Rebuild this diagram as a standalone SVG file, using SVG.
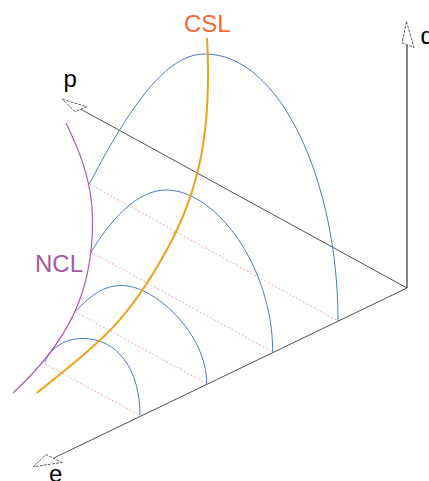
<svg xmlns="http://www.w3.org/2000/svg" width="429" height="481" viewBox="0 0 429 481">
<style>
.ax{stroke:#222;stroke-width:0.8;fill:none}
.axc{stroke:#666;stroke-width:1.6;fill:none}
.head{fill:#fff;stroke:#333;stroke-width:0.8;stroke-dasharray:3 1.2}
.arc{stroke:#4a78c8;stroke-width:1;fill:none}
.base{stroke:#f08a8a;stroke-width:0.8;stroke-dasharray:2 2;fill:none}
.ncl{stroke:#b05ab4;stroke-width:1.2;fill:none}
.csl{stroke:#e8a320;stroke-width:2;fill:none}
.lbl{font-family:"Liberation Sans",Arial,sans-serif;font-size:24px}
</style>
<rect width="429" height="481" fill="#fff"/>
<g id="bases">
<path class="base" d="M89.3,184 L338,321"/>
<path class="base" d="M91,252 L272.7,352"/>
<path class="base" d="M75,311.7 L206.7,383.5"/>
<path class="base" d="M45,364 L140,415.5"/>
</g>
<g id="axes">
<path class="axc" d="M407,45 L407,288"/>
<path class="ax" d="M407,288 L80.8,109.2"/>
<path class="ax" d="M407,288 L53.8,458"/>
<polygon class="head" points="406.5,21.7 402,43 414,47.5"/>
<polygon class="head" points="62.3,99.3 86.7,106.7 75,111.7"/>
<polygon class="head" points="33.3,466.7 46,454.5 61.7,462.5"/>
</g>
<g id="arcs">
<path class="arc" d="M89.3,184 C135.7,94.9 170,54 205,54 C280,54 338,181 338,321"/>
<path class="arc" d="M91,252 C109.8,221.6 136,190 166,190 C216,190 272.7,267 272.7,352"/>
<path class="arc" d="M75,311.7 C90,296.7 102,285.5 122,285.5 C154,285.5 206.7,333 206.7,383.5"/>
<path class="arc" d="M45,362 C50,350 62,338.5 83,338.5 C118,338.5 140,370 140,415.5"/>
</g>
<g id="NCL">
<path class="ncl" d="M66,123 C78,148 92.5,180 92.5,220 C93,290 70,340 13,393"/>
<text class="lbl" x="35" y="271.7" fill="#a855a8">NCL</text>
</g>
<g id="CSL">
<path class="csl" d="M207,38 C212,130 199.7,190 166.7,250 C128.2,320 105.5,338 36.7,393"/>
<text class="lbl" x="184" y="31.5" fill="#f26a36">CSL</text>
</g>
<g id="labels">
<text class="lbl" x="63.5" y="86.5">p</text>
<text class="lbl" x="49" y="482">e</text>
<text class="lbl" x="420.5" y="44">q</text>
</g>
</svg>
